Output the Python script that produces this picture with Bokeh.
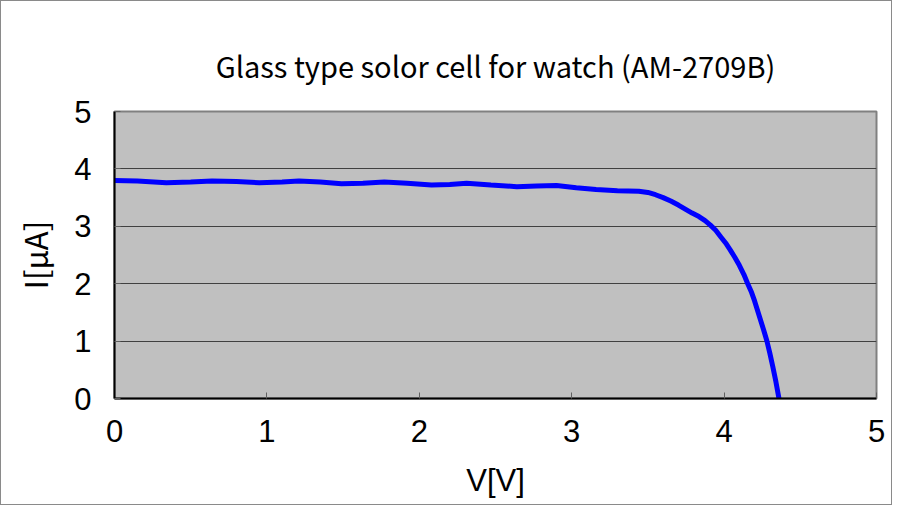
from bokeh.plotting import figure
from bokeh.models import Range1d, FixedTicker
from bokeh.embed import file_html
from bokeh.resources import INLINE

# Data
V = [0.0, 0.15, 0.34, 0.50, 0.64, 0.80, 0.95, 1.10, 1.21, 1.35, 1.49, 1.63, 1.77,
     1.92, 2.08, 2.20, 2.31, 2.47, 2.64, 2.77, 2.90, 3.03, 3.16, 3.30, 3.44, 3.50,
     3.55, 3.60, 3.65, 3.70, 3.745, 3.79, 3.835, 3.875, 3.91, 3.945, 3.98, 4.01,
     4.04, 4.07, 4.10, 4.13, 4.155, 4.18, 4.20, 4.22, 4.24, 4.26, 4.28, 4.30,
     4.32, 4.34, 4.36]
I = [3.80, 3.79, 3.76, 3.77, 3.79, 3.78, 3.76, 3.77, 3.79, 3.77, 3.74, 3.75, 3.77,
     3.75, 3.72, 3.73, 3.75, 3.72, 3.69, 3.70, 3.71, 3.67, 3.64, 3.62, 3.61, 3.59,
     3.55, 3.50, 3.44, 3.37, 3.30, 3.23, 3.17, 3.10, 3.02, 2.93, 2.81, 2.71,
     2.59, 2.46, 2.32, 2.16, 2.00, 1.85, 1.70, 1.53, 1.36, 1.19, 1.01, 0.79,
     0.55, 0.29, 0.0]
x_ticks = [0, 1, 2, 3, 4, 5]
y_ticks = [0, 1, 2, 3, 4, 5]
title_text = "Glass type solor cell for watch (AM-2709B)"
x_label = "V[V]"
y_label = "I[μA]"

p = figure(width=892, height=505, output_backend="svg", toolbar_location=None,
           x_range=Range1d(0, 5), y_range=Range1d(0, 5),
           min_border_left=113, min_border_right=17, min_border_top=110,
           min_border_bottom=108, title=title_text)
p.styles = {"border": "1px solid #8a8a8a"}
p.background_fill_color = "#C0C0C0"
p.border_fill_color = "white"
p.outline_line_color = "#808080"
p.outline_line_width = 2

p.title.align = "center"
p.title.text_font = "Noto Sans CJK JP"
p.title.text_font_size = "29px"
p.title.text_font_style = "normal"
p.title.text_color = "black"
p.title.standoff = 51

p.xgrid.visible = False
p.ygrid.grid_line_color = "#404040"
p.ygrid.grid_line_width = 1
p.ygrid.ticker = FixedTicker(ticks=y_ticks)

for ax in (p.xaxis[0], p.yaxis[0]):
    ax.axis_line_color = "black"
    ax.axis_line_width = 2
    ax.major_tick_in = 6
    ax.major_tick_out = 0
    ax.major_tick_line_color = "#606060"
    ax.minor_tick_line_color = None
    ax.major_label_text_font = "Liberation Sans"
    ax.major_label_text_font_size = "31px"
    ax.major_label_text_color = "black"
    ax.axis_label_text_font_style = "normal"
    ax.axis_label_text_font_size = "31px"
    ax.axis_label_text_color = "black"

p.xaxis.ticker = FixedTicker(ticks=x_ticks)
p.yaxis.ticker = FixedTicker(ticks=y_ticks)
p.xaxis.axis_label = x_label
p.yaxis.axis_label = y_label
p.xaxis.axis_label_text_font = "Liberation Sans"
p.yaxis.axis_label_text_font = "Noto Sans CJK JP"
p.xaxis.major_label_standoff = 21
p.yaxis.major_label_standoff = 23
p.xaxis.axis_label_standoff = 18
p.yaxis.axis_label_standoff = 14

p.line(V, I, line_color="#0000FF", line_width=5)

open("out.html", "w").write(file_html(p, INLINE))
